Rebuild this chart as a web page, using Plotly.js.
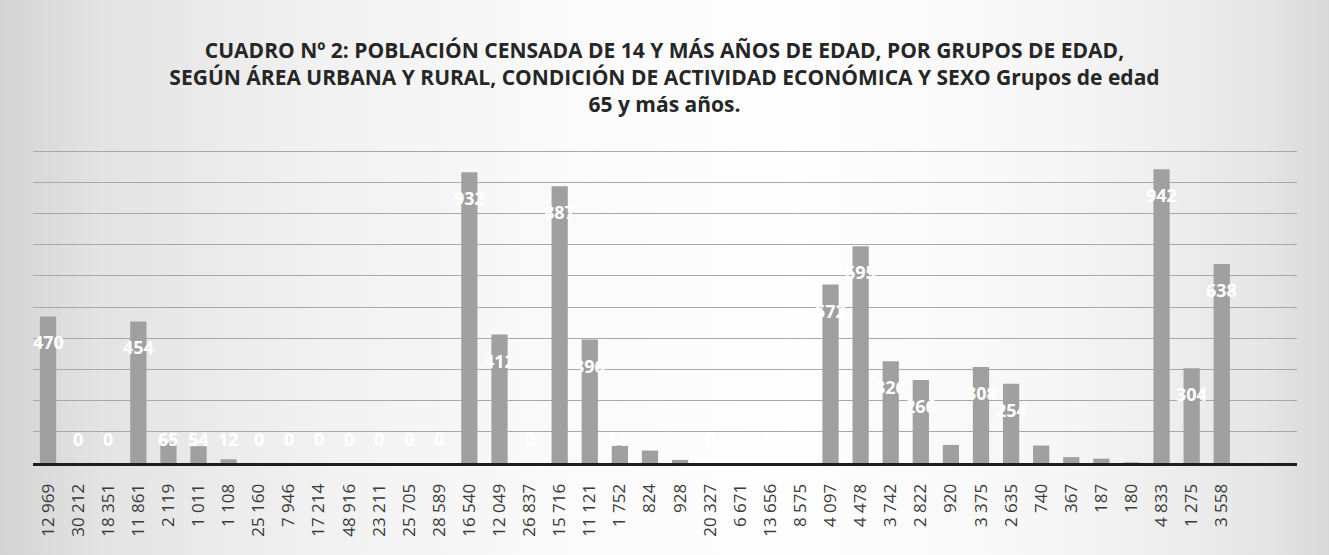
<!DOCTYPE html>
<html>
<head>
<meta charset="utf-8">
<script src="https://cdn.plot.ly/plotly-3.0.1.min.js"></script>
<style>
  html, body { margin: 0; padding: 0; }
  body {
    width: 1329px; height: 555px; overflow: hidden;
    background: linear-gradient(to right, #d4d4d4 0%, #e4e4e4 8%, #f2f2f2 25%, #fbfbfb 45%, #fefefe 60%, #f6f6f6 80%, #e6e6e6 95%, #d8d8d8 100%);
  }
  #chart { width: 1329px; height: 555px; }
</style>
</head>
<body>
<div id="chart"></div>
<script>
// Category labels (x axis)
const categories = [
  "12 969", "30 212", "18 351", "11 861", "2 119", "1 011", "1 108", "25 160",
  "7 946", "17 214", "48 916", "23 211", "25 705", "28 589", "16 540", "12 049",
  "26 837", "15 716", "11 121", "1 752", "824", "928", "20 327", "6 671",
  "13 656", "8 575", "4 097", "4 478", "3 742", "2 822", "920", "3 375",
  "2 635", "740", "367", "187", "180", "4 833", "1 275", "3 558"
];

// Bar values (65 y más años)
const values = [
  470, 0, 0, 454, 65, 54, 12, 0,
  0, 0, 0, 0, 0, 0, 932, 412,
  0, 887, 396, 56, 40, 10, 0, 0,
  0, 0, 572, 695, 326, 266, 58, 308,
  254, 56, 19, 14, 2, 942, 304, 638
];

const titleText = "CUADRO Nº 2: POBLACIÓN CENSADA DE 14 Y MÁS AÑOS DE EDAD, POR GRUPOS DE EDAD,<br>" +
  "SEGÚN ÁREA URBANA Y RURAL, CONDICIÓN DE ACTIVIDAD ECONÓMICA Y SEXO Grupos de edad<br>" +
  "65 y más años.";

const trace = {
  type: "bar",
  x: categories,
  y: values,
  marker: { color: "#a0a0a0", line: { width: 0 } },
  hoverinfo: "x+y"
};

// White data labels, placed inside the top of each bar (kept inside the plot for small bars)
const labelAnnotations = values.map((v, i) => ({
  x: categories[i],
  y: Math.max(v, 160),
  xref: "x", yref: "y",
  text: String(v),
  showarrow: false,
  yshift: -26,
  font: { family: "Open Sans, sans-serif", size: 18, color: "#ffffff", weight: "bold" }
}));

const layout = {
  width: 1329, height: 555,
  paper_bgcolor: "rgba(0,0,0,0)",
  plot_bgcolor: "rgba(0,0,0,0)",
  margin: { l: 33, r: 32, t: 148, b: 92 },
  title: {
    text: titleText,
    font: { family: "Open Sans, sans-serif", size: 21, color: "#262626", weight: "bold" },
    x: 0.5, xanchor: "center",
    y: 0.896, yanchor: "middle"
  },
  bargap: 0.46,
  showlegend: false,
  xaxis: {
    type: "category",
    range: [-0.5, 41.5],
    tickangle: -90,
    ticks: "",
    ticklabelstandoff: 11,
    tickfont: { family: "Open Sans, sans-serif", size: 17, color: "#3a3a3a" },
    showline: true, linecolor: "#1e1e1e", linewidth: 3,
    showgrid: false, zeroline: false, fixedrange: true
  },
  yaxis: {
    range: [0, 1010],
    dtick: 100,
    showticklabels: false,
    ticks: "",
    showgrid: true, gridcolor: "#a8a8a8", gridwidth: 1,
    zeroline: false, showline: false, fixedrange: true
  },
  annotations: labelAnnotations
};

Plotly.newPlot("chart", [trace], layout, { displayModeBar: false, staticPlot: true });
</script>
</body>
</html>
